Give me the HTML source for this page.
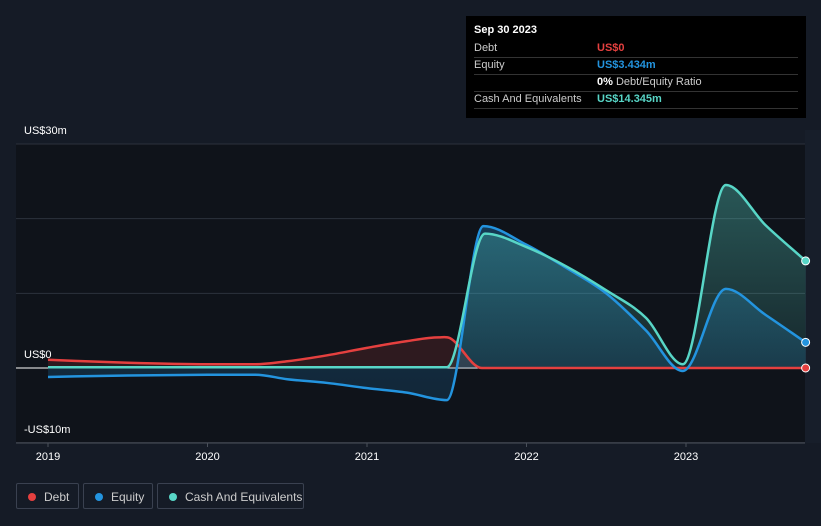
<!DOCTYPE html>
<html><head><meta charset="utf-8"><style>
body{margin:0;background:#151b26;font-family:"Liberation Sans",sans-serif;}
#wrap{position:relative;width:821px;height:526px;overflow:hidden;background:#151b26}
.tt{position:absolute;left:466px;top:16px;width:340px;height:102px;background:#000;color:#ccc;font-size:11px}
.tt .row{position:absolute;left:8px;width:324px;height:17px;border-bottom:1px solid #333;line-height:17px}
.tt .k{position:absolute;left:0}.tt .v{position:absolute;left:123px;font-weight:bold}
.leg{position:absolute;top:483px;height:26px;border:1px solid #3a4150;border-radius:2px;color:#ccc;font-size:12px;line-height:26px;box-sizing:border-box}
.leg i{position:absolute;left:11px;top:9px;width:8px;height:8px;border-radius:50%}
.leg span{position:absolute;left:27px}
</style></head><body>
<div id="wrap">
<svg id="svg" width="821" height="526" style="position:absolute;left:0;top:0">
<defs>
<linearGradient id="gc" x1="0" y1="0" x2="0" y2="1"><stop offset="0" stop-color="#58d6c7" stop-opacity="0.35"/><stop offset="1" stop-color="#58d6c7" stop-opacity="0.1"/></linearGradient>
<linearGradient id="ge" x1="0" y1="0" x2="0" y2="1"><stop offset="0" stop-color="#2394df" stop-opacity="0.3"/><stop offset="1" stop-color="#2394df" stop-opacity="0.15"/></linearGradient>
</defs>
<rect x="16" y="144" width="789" height="299" fill="#0f131a"/>
<rect x="805" y="130" width="16" height="313" fill="#171e2a"/>
<g id="grid"></g><g id="areas"></g><g id="lines"></g><g id="xaxis"></g>
</svg>
<div class="tt">
<div style="position:absolute;left:8px;top:8px;color:#fff;font-weight:bold;font-size:11px">Sep 30 2023</div>
<div class="row" style="top:24px"><span class="k">Debt</span><span class="v" style="color:#e5403f">US$0</span></div>
<div class="row" style="top:41px"><span class="k">Equity</span><span class="v" style="color:#2394df">US$3.434m</span></div>
<div class="row" style="top:58px"><span class="k"></span><span class="v" style="color:#fff">0% <span style="font-weight:normal;color:#ccc">Debt/Equity Ratio</span></span></div>
<div class="row" style="top:75px"><span class="k">Cash And Equivalents</span><span class="v" style="color:#58d6c7">US$14.345m</span></div>
</div>
<div style="position:absolute;left:24px;top:125px;color:#fff;font-size:11px">US$30m</div>
<div style="position:absolute;left:24px;top:349px;color:#fff;font-size:11px">US$0</div>
<div style="position:absolute;left:24px;top:424px;color:#fff;font-size:11px">-US$10m</div>
<div class="leg" style="left:16px;width:63px"><i style="background:#e5403f"></i><span>Debt</span></div>
<div class="leg" style="left:83px;width:70px"><i style="background:#2394df"></i><span>Equity</span></div>
<div class="leg" style="left:157px;width:147px"><i style="background:#58d6c7"></i><span>Cash And Equivalents</span></div>
</div>
<script>
const years=[2019,2020,2021,2022,2023];
const debtT=[2019,2019.5,2020,2020.3,2020.5,2020.75,2021,2021.25,2021.45,2021.52,2021.72,2022,2022.5,2023,2023.5,2023.75];
const debtV=[1.1,0.7,0.5,0.5,0.9,1.7,2.7,3.6,4.1,4.0,0,0,0,0,0,0];
const eqT=[2019,2019.5,2020,2020.3,2020.5,2020.75,2021,2021.25,2021.5,2021.73,2022,2022.25,2022.5,2022.75,2022.98,2023.25,2023.5,2023.75];
const eqV=[-1.2,-1.0,-0.9,-0.9,-1.5,-2.0,-2.7,-3.3,-4.3,19,16.5,13.4,10,5,-0.4,10.6,7.1,3.434];
const cashT=[2019,2019.5,2020,2020.5,2021,2021.5,2021.74,2022,2022.25,2022.5,2022.75,2022.98,2023.25,2023.5,2023.75];
const cashV=[0.1,0.1,0.1,0.1,0.1,0.1,18,16.2,13.6,10.4,6.7,0.5,24.5,19.1,14.345];
const yTicks=[-10,0,10,20,30];
const X=t=>48+(t-2019)*159.5, Y=v=>368-v*7.467;
const NS="http://www.w3.org/2000/svg";
function mk(tag,a,p){const e=document.createElementNS(NS,tag);for(const k in a)e.setAttribute(k,a[k]);p.appendChild(e);return e;}
function path(T,V){const p=T.map((t,i)=>[X(t),Y(V[i])]);const n=p.length;const m=[];
 const d=[];for(let i=0;i<n-1;i++)d.push((p[i+1][1]-p[i][1])/(p[i+1][0]-p[i][0]));
 for(let i=0;i<n;i++){if(i==0)m.push(d[0]);else if(i==n-1)m.push(d[n-2]);else m.push(d[i-1]*d[i]<=0?0:(d[i-1]+d[i])/2);}
 let s="M"+p[0][0]+","+p[0][1];
 for(let i=0;i<n-1;i++){const h=(p[i+1][0]-p[i][0])/3;s+=` C${p[i][0]+h},${p[i][1]+m[i]*h} ${p[i+1][0]-h},${p[i+1][1]-m[i+1]*h} ${p[i+1][0]},${p[i+1][1]}`;}
 return s;}
const grid=document.getElementById('grid');
yTicks.forEach(v=>{const g=mk('line',{x1:16,x2:805,y1:Y(v),y2:Y(v),stroke:v==0?'#fff':'#2c323c','stroke-width':1},grid);

});
const xa=document.getElementById('xaxis');
const ax=mk('line',{x1:16,x2:805,y1:443,y2:443,stroke:'#4a505a'},xa);


years.forEach(y=>{mk('line',{x1:X(y),x2:X(y),y1:443,y2:447,stroke:'#4a505a'},xa);
const t=mk('text',{x:X(y),y:460,fill:'#fff','font-size':11,'text-anchor':'middle'},xa);t.textContent=y;

});
const areas=document.getElementById('areas'),lines=document.getElementById('lines');
const series=[[debtT,debtV,'#e5403f','rgba(229,64,63,0.15)','debt'],[eqT,eqV,'#2394df','url(#ge)','equity'],[cashT,cashV,'#58d6c7','url(#gc)','cash']];
series.forEach(([T,V,c,f,n])=>{const d=path(T,V);
const a=mk('path',{d:d+` L${X(T[T.length-1])},368 L${X(T[0])},368 Z`,fill:f},areas);


const l=mk('path',{d:d,fill:'none',stroke:c,'stroke-width':2.5},lines);


const dot=mk('circle',{cx:X(T[T.length-1]),cy:Y(V[V.length-1]),r:4,fill:c,stroke:'#fff','stroke-width':1},lines);

});
</script>
</body></html>
